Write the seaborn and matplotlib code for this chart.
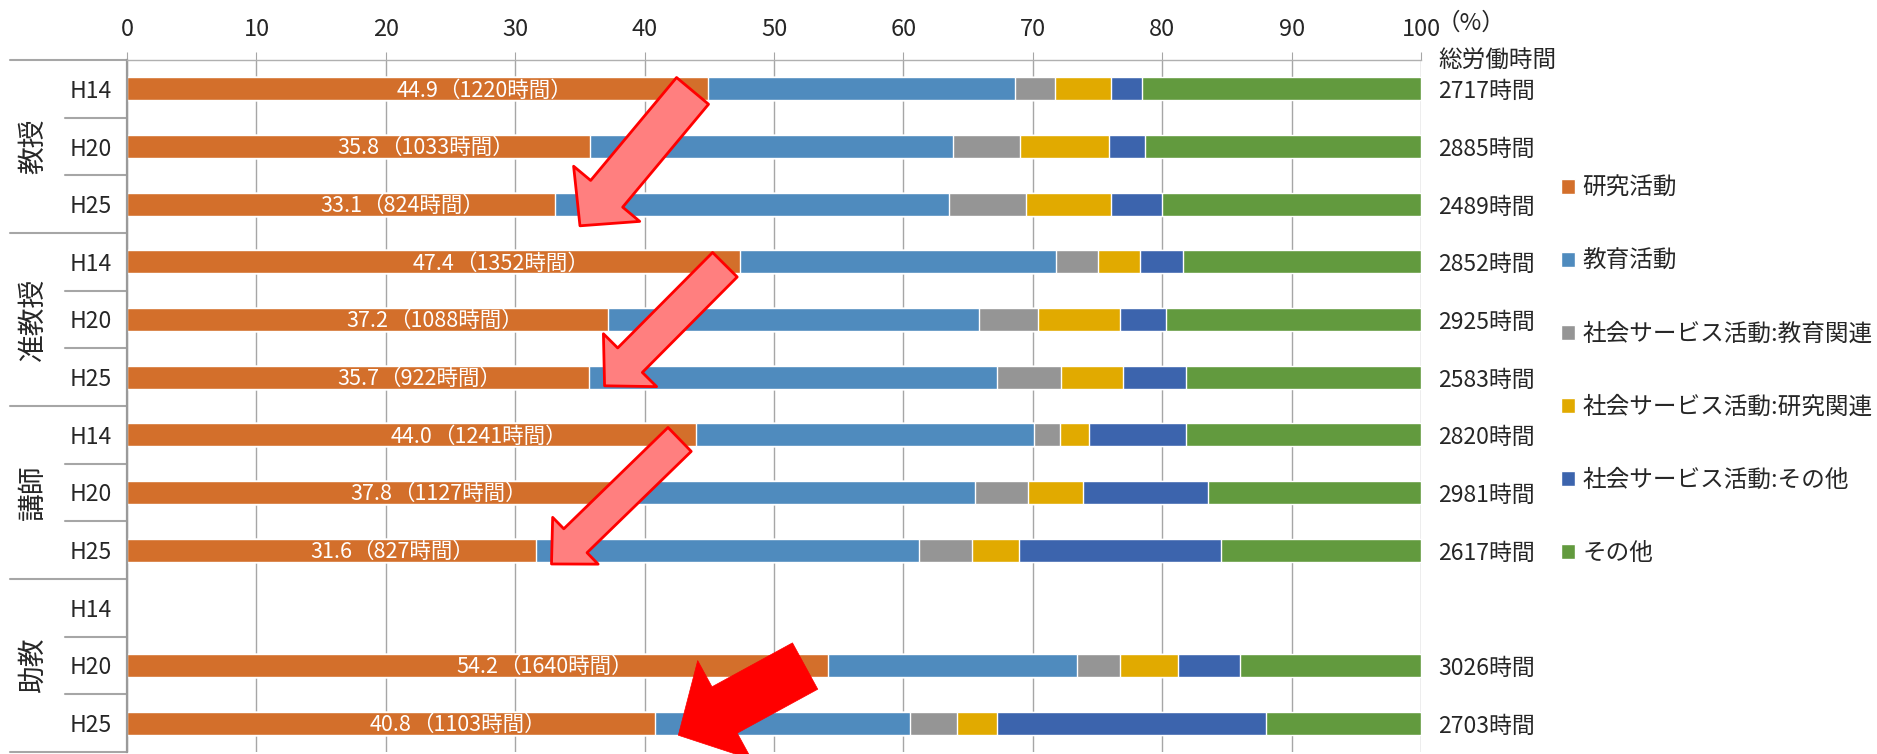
import numpy as np
import pandas as pd
import matplotlib
matplotlib.use('Agg')
import matplotlib.pyplot as plt
import matplotlib.transforms as mtransforms
from matplotlib.patches import Patch
import seaborn as sns

# 職位 × 年度
groups = ['教授', '准教授', '講師', '助教']
years = ['H14', 'H20', 'H25']
activities = ['研究活動', '教育活動', '社会サービス活動:教育関連',
              '社会サービス活動:研究関連', '社会サービス活動:その他', 'その他']
colors = ['#d36f2b', '#4f8bbe', '#959595', '#e1aa00', '#3c64ad', '#629a3e']

# 割合(%)  順: 教授H14,H20,H25, 准教授..., 講師..., 助教...
research = [44.9, 35.8, 33.1, 47.4, 37.2, 35.7, 44.0, 37.8, 31.6, np.nan, 54.2, 40.8]
education = [23.7, 28.0, 30.4, 24.4, 28.6, 31.5, 26.1, 27.7, 29.6, np.nan, 19.2, 19.7]
social_edu = [3.1, 5.2, 6.0, 3.2, 4.6, 5.0, 2.0, 4.1, 4.1, np.nan, 3.3, 3.6]
social_res = [4.3, 6.9, 6.5, 3.3, 6.3, 4.8, 2.2, 4.3, 3.6, np.nan, 4.5, 3.1]
social_other = [2.4, 2.8, 4.0, 3.3, 3.6, 4.8, 7.5, 9.6, 15.6, np.nan, 4.8, 20.8]
other = [21.6, 21.3, 20.0, 18.4, 19.7, 18.2, 18.2, 16.5, 15.5, np.nan, 14.0, 12.0]

research_hours = [1220, 1033, 824, 1352, 1088, 922, 1241, 1127, 827, None, 1640, 1103]
total_hours = [2717, 2885, 2489, 2852, 2925, 2583, 2820, 2981, 2617, None, 3026, 2703]

rows = [f'{g}_{y}' for g in groups for y in years]
shares = np.array([research, education, social_edu, social_res, social_other, other]).T
cum = np.cumsum(shares, axis=1)
df = pd.DataFrame(cum, columns=activities)
df['row'] = rows

sns.set_style('white')
plt.rcParams['font.family'] = ['Noto Sans CJK JP', 'DejaVu Sans']

fig, ax = plt.subplots(figsize=(18.77, 7.54), dpi=100)
fig.subplots_adjust(left=0.0677, right=0.7571, top=0.9204, bottom=0.0027)

# 積み上げ: 累積の長い順に重ねる
for i in reversed(range(len(activities))):
    sns.barplot(data=df, x=activities[i], y='row', order=rows, orient='h',
                color=colors[i], saturation=1, width=0.4, errorbar=None, ax=ax)

ax.set_xlim(0, 100)
ax.set_ylim(11.5, -0.5)
ax.set_xlabel('')
ax.set_ylabel('')
ax.xaxis.tick_top()
ax.set_xticks(range(0, 101, 10))
ax.tick_params(axis='x', direction='out', length=6, color='#a6a6a6', labelsize=17, pad=8)
ax.set_yticks(range(len(rows)))
ax.set_yticklabels(years * len(groups), fontsize=16.5)
ax.tick_params(axis='y', length=0, pad=11)
ax.grid(axis='x', color='#a6a6a6', lw=1)
ax.set_axisbelow(True)
for s in ['right', 'bottom']:
    ax.spines[s].set_visible(False)
ax.spines['left'].set_color('#9a9a9a')
ax.spines['left'].set_linewidth(1.6)
ax.spines['top'].set_color('#b0b0b0')
ax.spines['top'].set_linewidth(1)

trans = mtransforms.blended_transform_factory(ax.transAxes, ax.transData)

# 区切り線
for k in range(len(rows) + 1):
    x0 = -0.0904 if k % 3 == 0 else -0.0479
    ax.plot([x0, 0], [k - 0.5, k - 0.5], color='#a6a6a6', lw=1.5,
            transform=trans, clip_on=False)

for gi, g in enumerate(groups):
    ax.text(-0.0726, 1 + 3 * gi, g, rotation=90, ha='center', va='center',
            transform=trans, fontsize=20)

# 研究活動ラベル
for i, (v, h) in enumerate(zip(research, research_hours)):
    if h is None:
        continue
    t = ax.text(v / 2, i + 0.03, f'{v:.1f}', color='white', ha='center', va='center', fontsize=15.5)
    ax.annotate(f'（{h}時間）', xy=(1, 0.5), xycoords=t, ha='left', va='center',
                color='white', fontsize=15.5)

# 総労働時間
ax.text(1.013, -0.47, '総労働時間', transform=trans, ha='left', va='center', fontsize=17)
for i, tot in enumerate(total_hours):
    if tot is None:
        continue
    ax.text(1.013, i + 0.05, f'{tot}時間', transform=trans, ha='left', va='center', fontsize=16.5)

ax.text(1.012, 1.0535, '（%）', transform=ax.transAxes, ha='left', va='center', fontsize=17)

# 矢印
pink = dict(mutation_scale=1, fc='#ff7f7f', ec='#ff0000', lw=2, shrinkA=0, shrinkB=0)
ax.annotate('', xy=(35.0, 2.375), xytext=(43.7, 0.035),
            arrowprops=dict(arrowstyle='simple,head_length=30,head_width=62,tail_width=30', **pink))
ax.annotate('', xy=(36.9, 5.15), xytext=(46.2, 3.05),
            arrowprops=dict(arrowstyle='simple,head_length=26,head_width=54,tail_width=25', **pink))
ax.annotate('', xy=(32.8, 8.24), xytext=(42.7, 6.08),
            arrowprops=dict(arrowstyle='simple,head_length=24,head_width=47,tail_width=24', **pink))
ax.annotate('', xy=(42.6, 11.21), xytext=(52.4, 10.01),
            arrowprops=dict(arrowstyle='simple,head_length=38,head_width=81,tail_width=38',
                            mutation_scale=1, fc='#ff0000', ec='#ff0000', lw=0.5,
                            shrinkA=0, shrinkB=0))

handles = [Patch(facecolor=c) for c in colors]
fig.legend(handles, activities, loc='upper left', bbox_to_anchor=(0.8316, 0.766),
           frameon=False, fontsize=17, handlelength=0.6, handleheight=0.6,
           handletextpad=0.3, labelspacing=2.12, borderpad=0, borderaxespad=0)

fig.savefig('out.png', dpi=100)
